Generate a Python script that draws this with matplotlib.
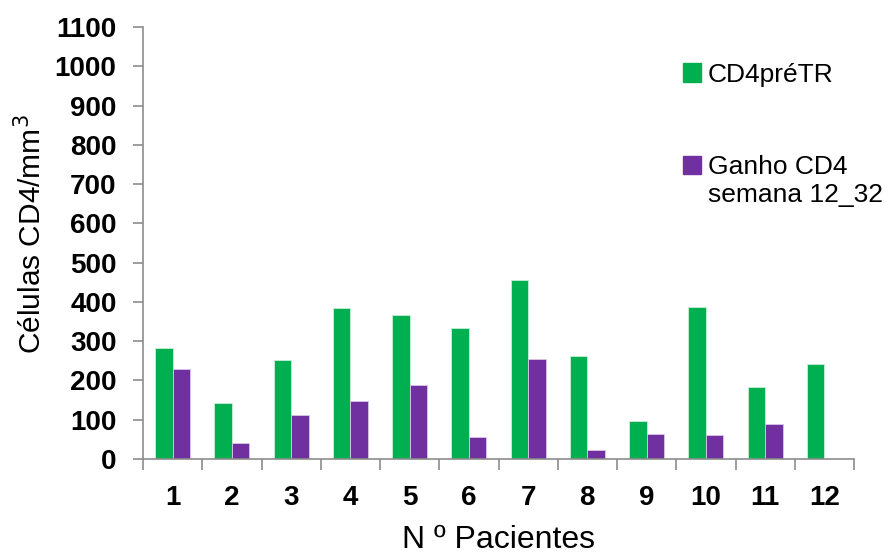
import matplotlib.pyplot as plt
import numpy as np
from matplotlib.patches import Patch

plt.rcParams['font.family'] = ['Liberation Sans', 'DejaVu Sans']

pacientes = ['1', '2', '3', '4', '5', '6', '7', '8', '9', '10', '11', '12']
cd4_pre = [282, 142, 253, 384, 367, 334, 455, 262, 96, 386, 184, 243]
ganho = [230, 41, 112, 148, 188, 57, 255, 24, 64, 60, 89, 0]

green = '#00B050'
purple = '#7030A0'

fig = plt.figure(figsize=(8.92, 5.54), dpi=100)
ax = fig.add_axes([143 / 892, 1 - 459 / 554, (854 - 143) / 892, (459 - 27) / 554])

x = np.arange(len(pacientes))
w = 0.295
ax.bar(x - w / 2, cd4_pre, w, color=green, edgecolor='#c8f0d8', linewidth=0.6)
ax.bar(x + w / 2, ganho, w, color=purple, edgecolor='#d8c8e8', linewidth=0.6)

ax.set_xlim(-0.5, len(pacientes) - 0.5)
ax.set_ylim(0, 1100)
ax.set_yticks(np.arange(0, 1101, 100))
ax.set_xticks(x)
ax.set_xticklabels(pacientes)
ax.set_xticks(np.arange(-0.5, len(pacientes)), minor=True)

for s in ['top', 'right']:
    ax.spines[s].set_visible(False)
for s in ['left', 'bottom']:
    ax.spines[s].set_color('#8c8c8c')
    ax.spines[s].set_linewidth(1.2)

ax.tick_params(axis='y', direction='out', length=7, width=1.2, color='#8c8c8c', pad=12,
               labelsize=20)
ax.tick_params(axis='x', which='major', length=0, pad=19, labelsize=20)
ax.tick_params(axis='x', which='minor', direction='out', length=8, width=1.2, color='#8c8c8c')
for lab in ax.get_xticklabels() + ax.get_yticklabels():
    lab.set_fontweight('bold')

ax.set_ylabel('Células CD4/mm$^3$', fontsize=21.5)
ax.yaxis.set_label_coords(-0.135, 0.52)
ax.set_xlabel('N º Pacientes', fontsize=23, labelpad=10)

leg1 = ax.legend([Patch(color=green)], ['CD4préTR'], loc='upper left',
                 bbox_to_anchor=(0.726, 0.972), frameon=False, fontsize=19,
                 handlelength=0.7, handleheight=0.7, handletextpad=0.25)
ax.add_artist(leg1)
ax.legend([Patch(color=purple), Patch(alpha=0)], ['Ganho CD4', 'semana 12_32'],
          loc='upper left', bbox_to_anchor=(0.726, 0.758), frameon=False, fontsize=19,
          handlelength=0.7, handleheight=0.7, handletextpad=0.25, labelspacing=0.15)

fig.savefig('out.png', dpi=100)
